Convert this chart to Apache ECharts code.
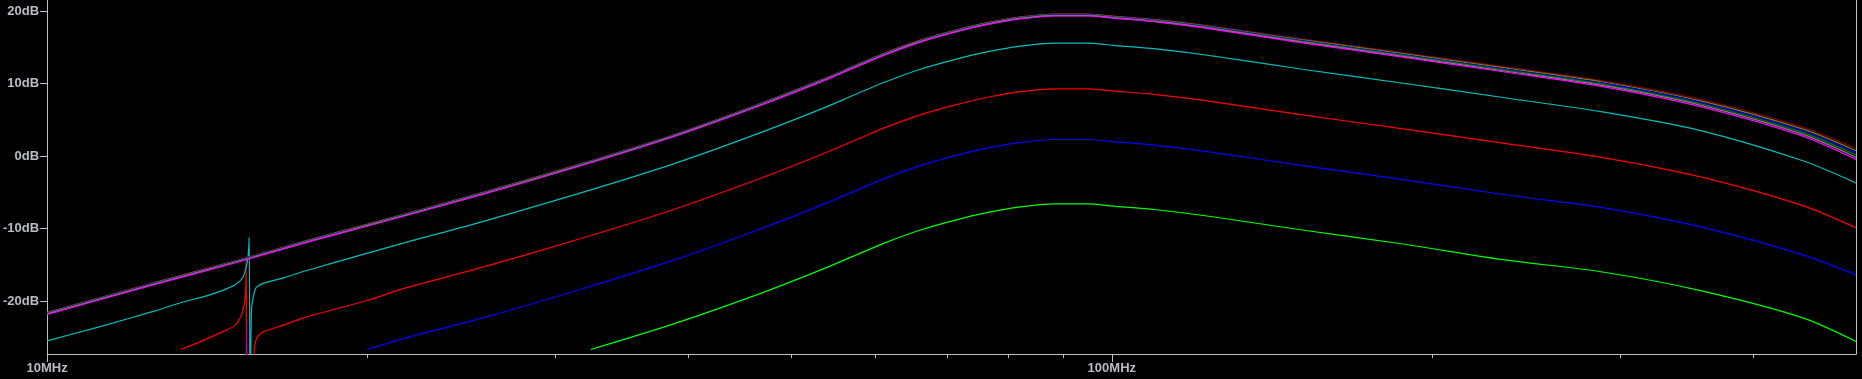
<!DOCTYPE html>
<html>
<head>
<meta charset="utf-8">
<title>AC sweep</title>
<script src="https://cdn.jsdelivr.net/npm/echarts@6/dist/echarts.min.js"></script>
<style>
    html, body { margin: 0; padding: 0; background: #000; }
    #chart { width: 1862px; height: 379px; }
</style>
</head>
<body>
<div id="chart"></div>
<script>
// frequency in MHz, magnitude in dB
const majorTicks = [10, 100];
const minorTicks = [20, 30, 40, 50, 60, 70, 80, 90, 200, 300, 400];
const dbTicks = [-20, -10, 0, 10, 20];

// the six nearly identical traces at the top
const bandFreq = [10, 12.6, 15, 17.4, 20, 25.7, 32, 38.7, 46.1, 53.3, 57.2, 61.4, 66.1, 71, 76.3, 82.1, 88.3, 94.8, 100.3, 110, 122, 151, 187, 233, 289, 358, 445, 500];
const darkRedDb = [-21.55, -17.45, -14.45, -11.75, -9.35, -4.95, -0.85, 2.95, 6.95, 10.55, 12.45, 14.35, 16.05, 17.35, 18.45, 19.25, 19.65, 19.65, 19.35, 18.88, 18.1, 16.15, 14.3, 12.35, 10.4, 7.8, 4.0, 1.05];
const oliveDb = [-21.61, -17.51, -14.51, -11.81, -9.41, -5.01, -0.91, 2.89, 6.89, 10.49, 12.39, 14.29, 15.99, 17.29, 18.39, 19.19, 19.59, 19.59, 19.29, 18.81, 18.02, 16.05, 14.18, 12.21, 10.24, 7.6, 3.76, 0.75];
const blueBandDb = [-21.67, -17.57, -14.57, -11.87, -9.47, -5.07, -0.97, 2.83, 6.83, 10.43, 12.33, 14.23, 15.93, 17.23, 18.33, 19.13, 19.53, 19.53, 19.23, 18.74, 17.94, 15.95, 14.06, 12.07, 10.08, 7.4, 3.52, 0.45];
const darkGreenDb = [-21.73, -17.63, -14.63, -11.93, -9.53, -5.13, -1.03, 2.77, 6.77, 10.37, 12.27, 14.17, 15.87, 17.17, 18.27, 19.07, 19.47, 19.47, 19.17, 18.67, 17.86, 15.85, 13.94, 11.93, 9.92, 7.2, 3.28, 0.15];
const greyDb = [-21.79, -17.69, -14.69, -11.99, -9.59, -5.19, -1.09, 2.71, 6.71, 10.31, 12.21, 14.11, 15.81, 17.11, 18.21, 19.01, 19.41, 19.41, 19.11, 18.6, 17.78, 15.75, 13.82, 11.79, 9.76, 7.0, 3.04, -0.15];
const magentaDb = [-21.85, -17.75, -14.75, -12.05, -9.65, -5.25, -1.15, 2.65, 6.65, 10.25, 12.15, 14.05, 15.75, 17.05, 18.15, 18.95, 19.35, 19.35, 19.05, 18.53, 17.7, 15.65, 13.7, 11.65, 9.6, 6.8, 2.8, -0.45];

const cyanFreq = [10, 11.3, 12.6, 13.45, 14.04, 14.64, 15.0, 15.25, 15.37, 15.45, 15.48, 15.51, 15.56, 15.6, 15.71, 16.0, 16.69, 17.43, 20, 21.6, 25.7, 32, 38.7, 46.1, 53.3, 57.2, 61.4, 66.1, 71, 76.3, 82.1, 88.3, 94.8, 100.3, 110, 122, 151, 187, 233, 289, 358, 445, 500];
const cyanDb = [-25.5, -23.4, -21.4, -20.1, -19.4, -18.5, -17.8, -16.9, -15.5, -13.6, -11.2, -32, -21.0, -19.9, -18.2, -17.5, -16.8, -15.9, -13.4, -12.0, -9.0, -4.9, -1.1, 2.9, 6.5, 8.4, 10.3, 12.0, 13.3, 14.4, 15.2, 15.6, 15.6, 15.3, 14.8, 14.0, 12.0, 10.1, 8.1, 6.1, 3.5, -0.6, -3.7];

const redFreq = [13.35, 14.04, 14.64, 15.0, 15.2, 15.3, 15.36, 15.38, 15.40, 15.62, 15.65, 15.71, 15.81, 16.0, 16.69, 17.43, 20, 21.6, 25.7, 32, 38.7, 46.1, 53.3, 57.2, 61.4, 66.1, 71, 76.3, 82.1, 88.3, 94.8, 100.3, 110, 122, 151, 187, 233, 289, 358, 445, 500];
const redDb = [-26.7, -25.4, -24.2, -23.4, -22.2, -20.8, -18.9, -14.3, -35, -35, -26.8, -25.4, -24.7, -24.2, -23.3, -22.3, -19.9, -18.3, -15.3, -11.2, -7.4, -3.4, 0.2, 2.1, 4.0, 5.7, 7.0, 8.1, 8.9, 9.3, 9.3, 9.0, 8.5, 7.7, 5.7, 3.8, 1.8, -0.2, -2.9, -6.8, -9.9];

// blue: short spike at the notch, then the main curve
const blueSpikeFreq = [15.37, 15.40, 15.43];
const blueSpikeDb = [-35, -22.5, -35];
const blueFreq = [19.97, 21.6, 25.7, 32, 38.7, 46.1, 53.3, 57.2, 61.4, 66.1, 71, 76.3, 82.1, 88.3, 94.8, 100.3, 110, 122, 151, 187, 233, 289, 358, 445, 500];
const blueDb = [-26.7, -25.2, -22.3, -18.2, -14.4, -10.4, -6.8, -4.9, -3.0, -1.3, 0.0, 1.1, 1.9, 2.3, 2.3, 2.0, 1.5, 0.7, -1.3, -3.2, -5.3, -7.1, -9.8, -13.6, -16.4];

const greenFreq = [32.4, 38.7, 46.1, 53.3, 57.2, 61.4, 66.1, 71, 76.3, 82.1, 88.3, 94.8, 100.3, 110, 122, 151, 187, 233, 289, 358, 445, 500];
const greenDb = [-26.7, -23.2, -19.3, -15.7, -13.8, -11.9, -10.2, -8.9, -7.8, -7.0, -6.6, -6.6, -6.9, -7.4, -8.2, -10.2, -12.1, -14.3, -16.0, -18.6, -22.3, -25.6];

function pairs(freq, db) {
    return freq.map((f, i) => [f, db[i]]);
}

function trace(name, color, freq, db) {
    return {
        name: name,
        type: 'line',
        xAxisIndex: 0,
        yAxisIndex: 0,
        symbol: 'none',
        smooth: 0.3,
        clip: true,
        lineStyle: { color: color, width: 1.2 },
        data: pairs(freq, db)
    };
}

const axisGrey = '#c0c0c0';
const textGrey = '#b8bcc4';
const labelFont = 'Liberation Sans, Arial, sans-serif';

const chart = echarts.init(document.getElementById('chart'));
chart.setOption({
    backgroundColor: '#000',
    animation: false,
    grid: { left: 42, right: 6, top: 0, bottom: 25 },
    xAxis: [{
        type: 'log',
        logBase: 10,
        min: 10,
        max: 500,
        axisLine: { show: true, onZero: false, lineStyle: { color: axisGrey, width: 1 } },
        axisTick: { show: true, length: 8, customValues: majorTicks, lineStyle: { color: axisGrey } },
        axisLabel: {
            customValues: majorTicks,
            formatter: v => Math.round(v) + 'MHz',
            color: textGrey, fontSize: 13, fontWeight: 'bold', fontFamily: labelFont, margin: 8
        },
        splitLine: { show: false }
    }, {
        // short ticks between the decades
        type: 'log',
        logBase: 10,
        min: 10,
        max: 500,
        position: 'bottom',
        axisLine: { show: false, onZero: false },
        axisTick: { show: true, length: 4, customValues: minorTicks, lineStyle: { color: axisGrey } },
        axisLabel: { show: false },
        splitLine: { show: false }
    }],
    yAxis: [{
        type: 'value',
        min: -27.32,
        max: 21.56,
        axisLine: { show: true, onZero: false, lineStyle: { color: axisGrey, width: 1 } },
        axisTick: { show: true, length: 7, customValues: dbTicks, lineStyle: { color: axisGrey } },
        axisLabel: {
            customValues: dbTicks,
            formatter: v => v + 'dB',
            color: textGrey, fontSize: 13, fontWeight: 'bold', fontFamily: labelFont, margin: 8
        },
        splitLine: { show: false }
    }, {
        // right border
        type: 'value',
        position: 'right',
        min: -27.32,
        max: 21.56,
        axisLine: { show: true, onZero: false, lineStyle: { color: axisGrey, width: 1 } },
        axisTick: { show: false },
        axisLabel: { show: false },
        splitLine: { show: false }
    }],
    series: [
        trace('V(g1)', '#00ff00', greenFreq, greenDb),
        trace('V(g2)', '#0000ff', blueFreq, blueDb),
        trace('V(g2) notch', '#0000ff', blueSpikeFreq, blueSpikeDb),
        trace('V(g3)', '#ff0000', redFreq, redDb),
        trace('V(g4)', '#00bfbf', cyanFreq, cyanDb),
        trace('V(g10)', '#800000', bandFreq, darkRedDb),
        trace('V(g9)', '#808000', bandFreq, oliveDb),
        trace('V(g8)', '#0000ff', bandFreq, blueBandDb),
        trace('V(g7)', '#008000', bandFreq, darkGreenDb),
        trace('V(g6)', '#808080', bandFreq, greyDb),
        trace('V(g5)', '#ff00ff', bandFreq, magentaDb)
    ]
});
</script>
</body>
</html>
